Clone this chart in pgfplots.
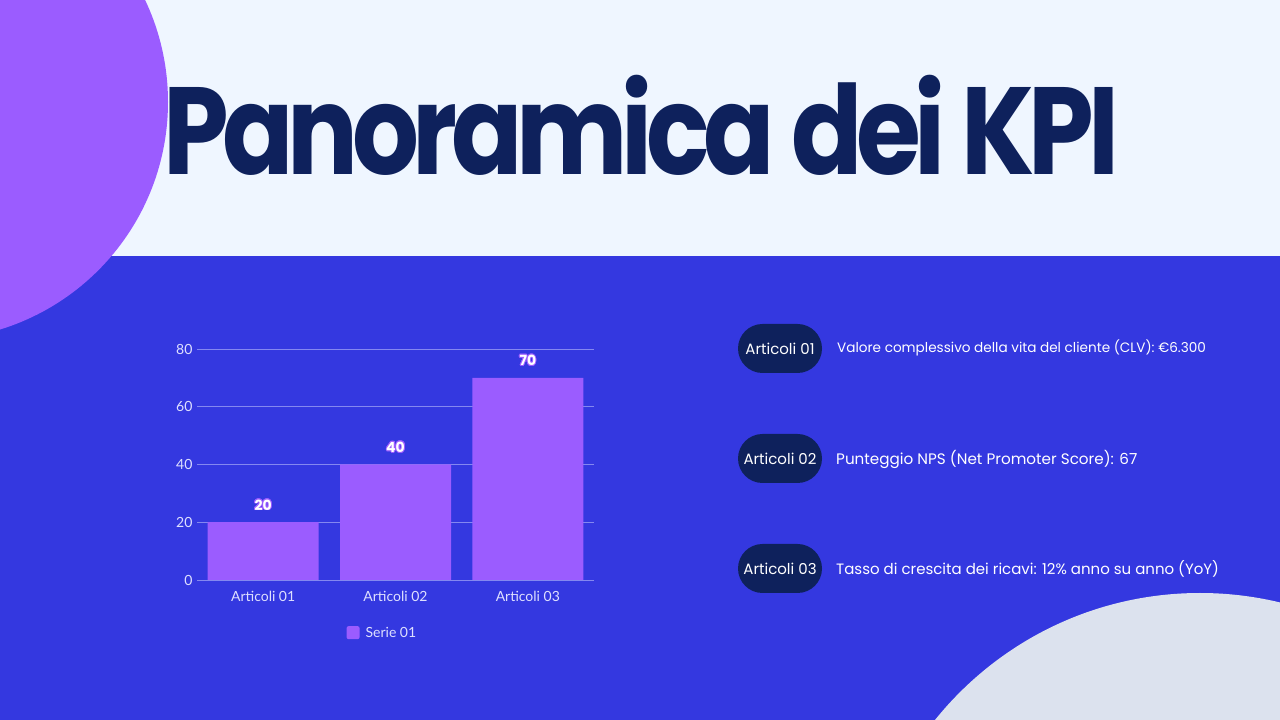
\documentclass[border=0pt]{standalone}
\usepackage{fontspec}
\setmainfont{Poppins}
\newfontfamily\titlefont{Poppins}[LetterSpace=-6]
\newfontfamily\tickfont{Lato}
\usepackage{pgfplots}
\pgfplotsset{compat=1.18}
\usepackage[copies]{contour}
\contourlength{0.9pt}

\definecolor{bgtop}{RGB}{239,246,255}
\definecolor{bgblue}{RGB}{52,56,224}
\definecolor{purp}{RGB}{155,92,255}
\definecolor{navy}{RGB}{14,33,92}
\definecolor{greyc}{RGB}{220,226,238}
\definecolor{gridc}{RGB}{132,136,240}
\definecolor{tickc}{RGB}{222,224,255}

\begin{document}
\begin{tikzpicture}[x=1pt,y=1pt]
\useasboundingbox (0,0) rectangle (1280,720);
\begin{scope}
  \clip (0,0) rectangle (1280,720);
  \fill[bgtop] (0,0) rectangle (1280,720);
  \fill[bgblue] (0,0) rectangle (1280,464);
  \fill[purp] (-70,618) circle (238);
  \fill[greyc] (1200,-213) circle (340);
\end{scope}

% title
\node[anchor=base west, inner sep=0, text=navy,
      font=\titlefont\bfseries\fontsize{124}{124}\selectfont] at (163,545)
  {\scalebox{0.848}[1]{Panoramica dei KPI}};

\begin{axis}[
  at={(197pt,140pt)}, anchor=south west,
  width=397pt, height=231pt, scale only axis,
  xmin=-0.5, xmax=2.5, ymin=0, ymax=80,
  xtick={0,1,2}, xticklabels={Articoli 01,Articoli 02,Articoli 03},
  ytick={0,20,40,60,80},
  axis line style={draw=none},
  major tick length=0pt,
  ymajorgrids, grid style={gridc, line width=0.8pt},
  tick label style={font=\tickfont\fontsize{14}{14}\selectfont, text=tickc},
  /pgf/number format/assume math mode=true,
  xticklabel style={yshift=-8pt},
  yticklabel style={xshift=-1pt},
  legend style={at={(0.467,-0.228)}, anchor=center, draw=none, fill=none,
    font=\tickfont\fontsize{14}{14}\selectfont, text=tickc},
  legend image code/.code={\fill[purp,rounded corners=2pt] (0pt,-6.5pt) rectangle (13pt,6.5pt);},
]
\addplot[ybar, bar width=111pt, fill=purp, draw=none,
  nodes near coords={\contour{purp}{\pgfmathprintnumber{\pgfplotspointmeta}}},
  every node near coord/.append style={anchor=center, yshift=17pt, text=white,
    font=\bfseries\fontsize{14}{14}\selectfont}]
  coordinates {(0,20) (1,40) (2,70)};
\addlegendentry{\hspace{4pt}Serie 01}
\end{axis}

% KPI pills
\foreach \yy/\lab in {371.5/Articoli 01, 261.5/Articoli 02, 151.5/Articoli 03}{
  \fill[navy, rounded corners=24.5pt] (738,\yy-24.5) rectangle (822,\yy+24.5);
  \node[text=white, font=\fontsize{15}{15}\selectfont] at (780,\yy) {\lab};
}
\node[anchor=west, inner sep=0, text=white, font=\fontsize{13.6}{14}\selectfont] at (837,372)
  {Valore complessivo della vita del cliente (CLV): €6.300};
\node[anchor=west, inner sep=0, text=white, font=\fontsize{15.2}{15}\selectfont] at (836,261)
  {Punteggio NPS (Net Promoter Score): 67};
\node[anchor=west, inner sep=0, text=white, font=\fontsize{15}{15}\selectfont] at (836,151)
  {Tasso di crescita dei ricavi: 12\% anno su anno (YoY)};
\end{tikzpicture}
\end{document}
